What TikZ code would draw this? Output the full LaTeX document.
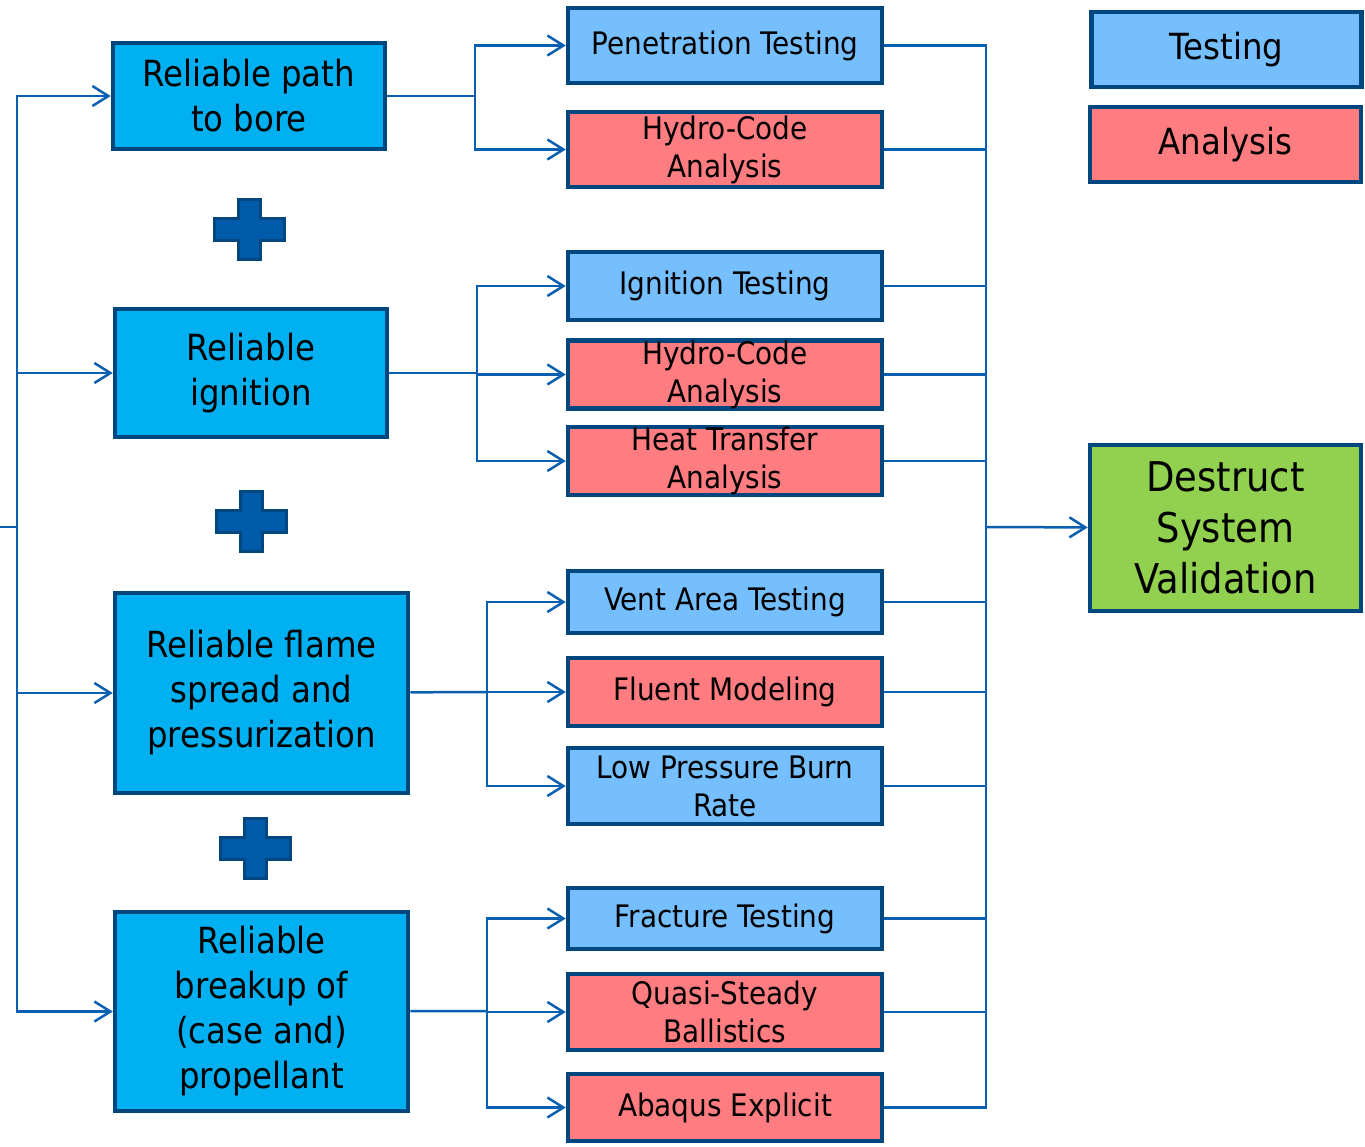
\documentclass[tikz,border=0pt]{standalone}
\usepackage{fontspec}
\setmainfont{DejaVu Sans Condensed}
\usetikzlibrary{arrows.meta,positioning}
\definecolor{goalfill}{HTML}{00B0F0}
\definecolor{testfill}{HTML}{75BFFF}
\definecolor{anafill}{HTML}{FF7C80}
\definecolor{valfill}{HTML}{92D050}
\definecolor{edgeblue}{HTML}{00467F}
\definecolor{linkblue}{HTML}{0B5FB0}
\definecolor{plusfill}{HTML}{005AAA}

\begin{document}
\begin{tikzpicture}[x=1pt,y=-1pt,
 goal/.style={draw=edgeblue,line width=4.5pt,fill=goalfill,minimum width=272pt,align=center,inner sep=0pt,font=\fontsize{36}{45}\selectfont},
 task/.style={draw=edgeblue,line width=4.5pt,minimum width=314pt,align=center,inner sep=0pt,font=\fontsize{31}{38}\selectfont},
 test/.style={task,fill=testfill},
 ana/.style={task,fill=anafill},
 plus/.style={draw=edgeblue,line width=3pt,fill=plusfill},
 link/.style={linkblue,line width=2.5pt},
 arr/.style={link,-{Straight Barb[length=16pt,width=20pt,line width=2.5pt]}}]
\useasboundingbox (0,0) rectangle (1365,1146);
% goals on the left
\node[goal,minimum height=106pt] (bore) at (249,96) {Reliable path\\to bore};
\node[goal,minimum height=128pt] (ign) at (251,373) {Reliable\\ignition};
\node[goal,minimum width=293pt,minimum height=200pt] (flame) at (261.5,693) {Reliable flame\\spread and\\pressurization};
\node[goal,minimum width=293pt,minimum height=199pt] (brk) at (261.5,1011.5) {Reliable\\breakup of\\(case and)\\propellant};
\foreach \px/\py in {249/229,251/521,255/848}
 \draw[plus,shift={(\px,\py)}] (-11,-30) -- (11,-30) -- (11,-11) -- (35,-11) -- (35,11) -- (11,11)
  -- (11,30) -- (-11,30) -- (-11,11) -- (-35,11) -- (-35,-11) -- (-11,-11) -- cycle;
% tests and analyses
\node[test,minimum height=75pt] (pen) at (725,45.5) {Penetration Testing};
\node[ana,minimum height=75pt] (hydroA) at (725,149.5) {Hydro-Code\\Analysis};
\node[test,minimum height=68pt] (igt) at (725,286) {Ignition Testing};
\node[ana,minimum height=67pt] (hydroB) at (725,374.5) {Hydro-Code\\Analysis};
\node[ana,minimum height=68pt] (heat) at (725,461) {Heat Transfer\\Analysis};
\node[test,minimum height=62pt] (vent) at (725,602) {Vent Area Testing};
\node[ana,minimum height=68pt] (fluent) at (725,692) {Fluent Modeling};
\node[test,minimum height=76pt] (lpbr) at (725,786) {Low Pressure Burn\\Rate};
\node[test,minimum height=61pt] (frac) at (725,918.5) {Fracture Testing};
\node[ana,minimum height=76pt] (qsb) at (725,1012) {Quasi-Steady\\Ballistics};
\node[ana,minimum height=67pt] (abq) at (725,1107.5) {Abaqus Explicit};
% legend and result
\node[test,minimum width=270pt,minimum height=75pt,font=\fontsize{36}{44}\selectfont] (legT) at (1226.5,49.5) {Testing};
\node[ana,minimum width=271pt,minimum height=75pt,font=\fontsize{36}{44}\selectfont] (legA) at (1225.5,144.5) {Analysis};
\node[task,fill=valfill,minimum width=271pt,minimum height=166pt,font=\fontsize{41}{51}\selectfont] (dsv) at (1225.5,528) {Destruct\\System\\Validation};
% left trunk
\coordinate (feed) at (0,527);
\coordinate (trunk) at (17,527);
\draw[link] (feed) -- (trunk);
\foreach \g in {bore,ign,flame,brk}
 \draw[arr] (trunk) |- (\g.west);
% branches
\coordinate (jbore) at (475,96);
\coordinate (jign) at (477,373);
\coordinate (jflame) at (487,692);
\coordinate (jbrk) at (487,1011);
\draw[link] (bore) -- (jbore);
\draw[link] (ign) -- (jign);
\draw[link] (flame) -- (jflame);
\draw[link] (brk) -- (jbrk);
\foreach \t in {pen,hydroA} \draw[arr] (jbore) |- (\t.west);
\foreach \t in {igt,hydroB,heat} \draw[arr] (jign) |- (\t.west);
\foreach \t in {vent,fluent,lpbr} \draw[arr] (jflame) |- (\t.west);
\foreach \t in {frac,qsb,abq} \draw[arr] (jbrk) |- (\t.west);
% collect on the right
\coordinate (merge) at (986,527);
\foreach \t in {pen,hydroA,igt,hydroB,heat,vent,fluent,lpbr,frac,qsb,abq}
 \draw[link] (\t.east) -| (merge);
\draw[arr] (merge) -- (dsv);
\end{tikzpicture}
\end{document}
